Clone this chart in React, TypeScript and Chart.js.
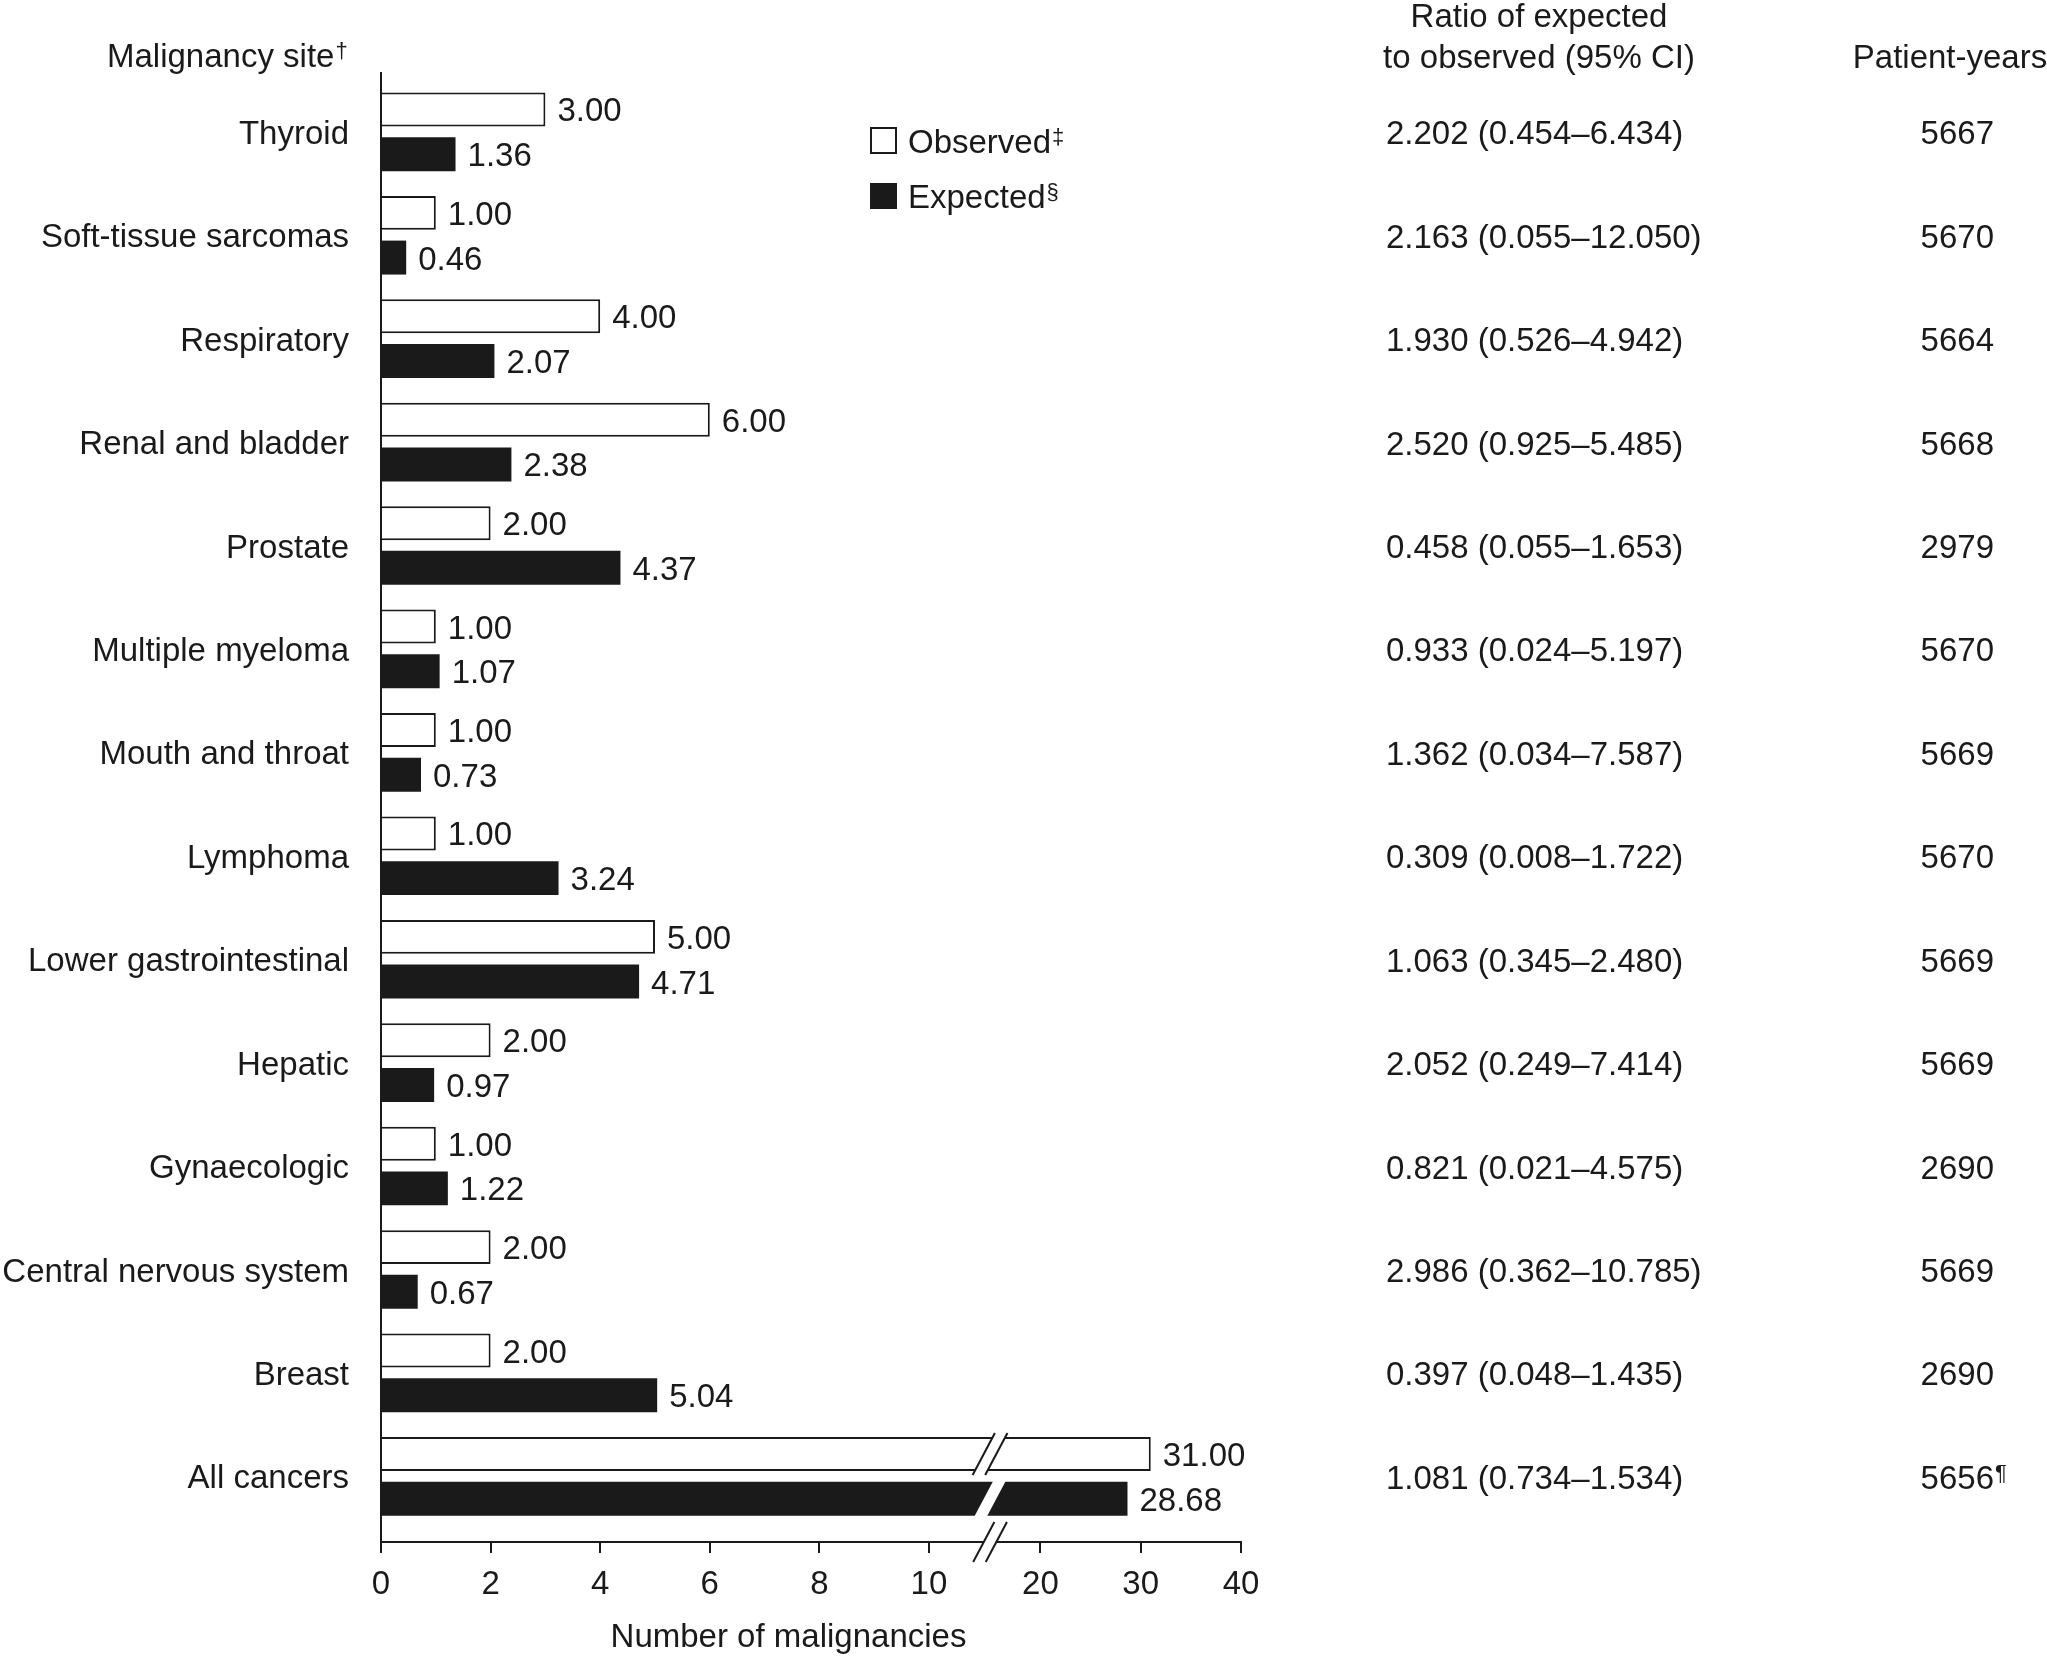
import React, { useEffect, useRef } from 'react';
import { Chart, registerables, LinearScale } from 'chart.js';

Chart.register(...registerables);

// ---------------- data ----------------
const categories = [
  'Thyroid',
  'Soft-tissue sarcomas',
  'Respiratory',
  'Renal and bladder',
  'Prostate',
  'Multiple myeloma',
  'Mouth and throat',
  'Lymphoma',
  'Lower gastrointestinal',
  'Hepatic',
  'Gynaecologic',
  'Central nervous system',
  'Breast',
  'All cancers',
];
const observed = [3, 1, 4, 6, 2, 1, 1, 1, 5, 2, 1, 2, 2, 31];
const expected = [1.36, 0.46, 2.07, 2.38, 4.37, 1.07, 0.73, 3.24, 4.71, 0.97, 1.22, 0.67, 5.04, 28.68];
const ratioCI = [
  '2.202 (0.454–6.434)',
  '2.163 (0.055–12.050)',
  '1.930 (0.526–4.942)',
  '2.520 (0.925–5.485)',
  '0.458 (0.055–1.653)',
  '0.933 (0.024–5.197)',
  '1.362 (0.034–7.587)',
  '0.309 (0.008–1.722)',
  '1.063 (0.345–2.480)',
  '2.052 (0.249–7.414)',
  '0.821 (0.021–4.575)',
  '2.986 (0.362–10.785)',
  '0.397 (0.048–1.435)',
  '1.081 (0.734–1.534)',
];
const patientYears = ['5667', '5670', '5664', '5668', '2979', '5670', '5669', '5670', '5669', '5669', '2690', '5669', '2690', '5656'];
const patientYearsMarks = ['', '', '', '', '', '', '', '', '', '', '', '', '', '¶'];
const xTicks = [0, 2, 4, 6, 8, 10, 20, 30, 40];
const xMin = 0;
const xMax = 40;
const breakLow = 11;
const breakHigh = 15.6;

// ---------------- style ----------------
const INK = '#1a1a1a';
const FAMILY = "'Liberation Sans', Arial, Helvetica, sans-serif";
const FS = 33;
const SUP = 22;
const FONT = `${FS}px ${FAMILY}`;
const SUP_FONT = `${SUP}px ${FAMILY}`;
const W = 2047;
const H = 1656;

// fraction of axis width where the first segment ends / second begins
const SEG_A_END = 0.7009;
const SEG_B_START = 0.7155;

function toFrac(v: number): number {
  if (v <= breakLow) return ((v - xMin) / (breakLow - xMin)) * SEG_A_END;
  if (v >= breakHigh) return SEG_B_START + ((v - breakHigh) / (xMax - breakHigh)) * (1 - SEG_B_START);
  return SEG_A_END + ((v - breakLow) / (breakHigh - breakLow)) * (SEG_B_START - SEG_A_END);
}
function fromFrac(f: number): number {
  if (f <= SEG_A_END) return xMin + (f / SEG_A_END) * (breakLow - xMin);
  if (f >= SEG_B_START) return breakHigh + ((f - SEG_B_START) / (1 - SEG_B_START)) * (xMax - breakHigh);
  return breakLow + ((f - SEG_A_END) / (SEG_B_START - SEG_A_END)) * (breakHigh - breakLow);
}

class BrokenLinearScale extends LinearScale {
  static id = 'brokenLinear';
  static defaults = LinearScale.defaults;
  getPixelForValue(value: any) {
    if (value === null || value === undefined || isNaN(value)) return NaN;
    return (this as any).getPixelForDecimal(toFrac(+value));
  }
  getValueForPixel(pixel: number) {
    return fromFrac((this as any).getDecimalForPixel(pixel));
  }
}
Chart.register(BrokenLinearScale as any);

function drawSup(ctx: CanvasRenderingContext2D, text: string, x: number, baseline: number) {
  ctx.font = SUP_FONT;
  ctx.textAlign = 'left';
  ctx.textBaseline = 'alphabetic';
  ctx.fillText(text, x, baseline - 9);
}

const overlayPlugin = {
  id: 'overlay',
  afterDraw(chart: any) {
    const { ctx } = chart;
    const xs = chart.scales.x;
    const ys = chart.scales.y;
    const xb1 = xs.getPixelForValue(breakLow);
    const xb2 = xs.getPixelForValue(breakHigh);
    const slope = 0.53;

    const cut = (yc: number, h: number, lines: boolean) => {
      ctx.save();
      ctx.fillStyle = '#ffffff';
      ctx.beginPath();
      ctx.moveTo(xb1 - slope * h, yc + h);
      ctx.lineTo(xb1 + slope * h, yc - h);
      ctx.lineTo(xb2 + slope * h, yc - h);
      ctx.lineTo(xb2 - slope * h, yc + h);
      ctx.closePath();
      ctx.fill();
      if (lines) {
        ctx.strokeStyle = INK;
        ctx.lineWidth = 2;
        for (const xb of [xb1, xb2]) {
          ctx.beginPath();
          ctx.moveTo(xb - slope * h, yc + h);
          ctx.lineTo(xb + slope * h, yc - h);
          ctx.stroke();
        }
      }
      ctx.restore();
    };

    // value labels + breaks on long bars
    ctx.save();
    chart.data.datasets.forEach((ds: any, di: number) => {
      const meta = chart.getDatasetMeta(di);
      meta.data.forEach((el: any, i: number) => {
        const p = el.getProps(['x', 'y', 'height'], true);
        const v = ds.data[i].x;
        if (v > breakHigh) cut(p.y, p.height / 2 + 4, di === 0);
        ctx.fillStyle = INK;
        ctx.font = FONT;
        ctx.textAlign = 'left';
        ctx.textBaseline = 'alphabetic';
        ctx.fillText(v.toFixed(2), p.x + 12, p.y + 12);
      });
    });
    ctx.restore();

    // axis break
    cut(chart.chartArea.bottom, 20, true);

    ctx.save();
    ctx.fillStyle = INK;
    ctx.textBaseline = 'alphabetic';

    // header: malignancy site
    ctx.font = FONT;
    ctx.textAlign = 'left';
    const ms = 'Malignancy site';
    ctx.fillText(ms, 107, 67);
    const msw = ctx.measureText(ms).width;
    drawSup(ctx, '†', 107 + msw + 1, 67);

    // header: ratio
    ctx.font = FONT;
    ctx.textAlign = 'center';
    ctx.fillText('Ratio of expected', 1539, 27);
    ctx.fillText('to observed (95% CI)', 1539, 68);
    ctx.fillText('Patient-years', 1950, 68);

    // legend
    ctx.fillStyle = '#ffffff';
    ctx.fillRect(871, 128, 25, 25);
    ctx.strokeStyle = INK;
    ctx.lineWidth = 2;
    ctx.strokeRect(871, 128, 25, 25);
    ctx.fillStyle = INK;
    ctx.fillRect(870, 183, 27, 26);
    ctx.font = FONT;
    ctx.textAlign = 'left';
    ctx.fillText('Observed', 908, 153);
    let w = ctx.measureText('Observed').width;
    drawSup(ctx, '‡', 908 + w + 1, 153);
    ctx.font = FONT;
    ctx.fillText('Expected', 908, 208);
    w = ctx.measureText('Expected').width;
    drawSup(ctx, '§', 908 + w + 1, 208);

    // right-hand columns
    categories.forEach((_, i) => {
      const y = ys.getPixelForValue(i) + 12.5;
      ctx.font = FONT;
      ctx.textAlign = 'left';
      ctx.fillText(ratioCI[i], 1386, y);
      ctx.textAlign = 'right';
      ctx.fillText(patientYears[i], 1994, y);
      if (patientYearsMarks[i]) drawSup(ctx, patientYearsMarks[i], 1995, y);
    });

    // x axis title
    ctx.font = FONT;
    ctx.textAlign = 'center';
    ctx.fillText('Number of malignancies', 788.5, 1647);
    ctx.restore();
  },
};

const Y_MIN = -0.5686;
const Y_MAX = 13.635;

export default function App() {
  const ref = useRef<HTMLCanvasElement>(null);
  useEffect(() => {
    if (!ref.current) return;
    const chart = new Chart(ref.current, {
      type: 'bar',
      data: {
        datasets: [
          {
            label: 'Observed',
            data: observed.map((v, i) => ({ x: v, y: i })),
            backgroundColor: '#ffffff',
            borderColor: INK,
            borderWidth: 2,
            borderSkipped: 'start',
            categoryPercentage: 0.864,
            barPercentage: 0.76,
          },
          {
            label: 'Expected',
            data: expected.map((v, i) => ({ x: v, y: i })),
            backgroundColor: INK,
            borderColor: INK,
            borderWidth: 0,
            categoryPercentage: 0.864,
            barPercentage: 0.76,
          },
        ],
      } as any,
      options: {
        indexAxis: 'y',
        animation: false,
        responsive: false,
        maintainAspectRatio: false,
        layout: { padding: { left: 0, top: 73, right: W - 1241, bottom: 0 } },
        plugins: { legend: { display: false }, tooltip: { enabled: false } },
        scales: {
          x: {
            type: 'brokenLinear',
            min: xMin,
            max: xMax,
            offset: false,
            afterBuildTicks: (axis: any) => {
              axis.ticks = xTicks.map((v) => ({ value: v }));
            },
            afterFit: (axis: any) => {
              axis.height = H - 1542;
            },
            ticks: {
              autoSkip: false,
              maxRotation: 0,
              padding: 12,
              color: INK,
              font: { family: FAMILY, size: FS },
              callback: (v: any) => String(v),
            },
            grid: { display: true, drawOnChartArea: false, drawTicks: true, tickLength: 11, color: INK, lineWidth: 2, offset: false },
            border: { display: true, color: INK, width: 2 },
          },
          y: {
            type: 'linear',
            reverse: true,
            offset: false,
            min: Y_MIN,
            max: Y_MAX,
            afterBuildTicks: (axis: any) => {
              axis.ticks = categories.map((_, i) => ({ value: i }));
            },
            afterFit: (axis: any) => {
              axis.width = 381;
            },
            ticks: {
              autoSkip: false,
              padding: 32,
              labelOffset: 3,
              color: INK,
              font: { family: FAMILY, size: FS },
              callback: (v: any) => categories[v] ?? '',
            },
            grid: { display: false, drawTicks: false, offset: false },
            border: { display: true, color: INK, width: 2 },
          },
        },
      } as any,
      plugins: [overlayPlugin],
    });
    return () => chart.destroy();
  }, []);
  return (
    <div style={{ position: 'absolute', left: 0, top: 0, width: W, height: H, background: '#ffffff' }}>
      <canvas ref={ref} width={W} height={H} style={{ display: 'block' }} />
    </div>
  );
}
